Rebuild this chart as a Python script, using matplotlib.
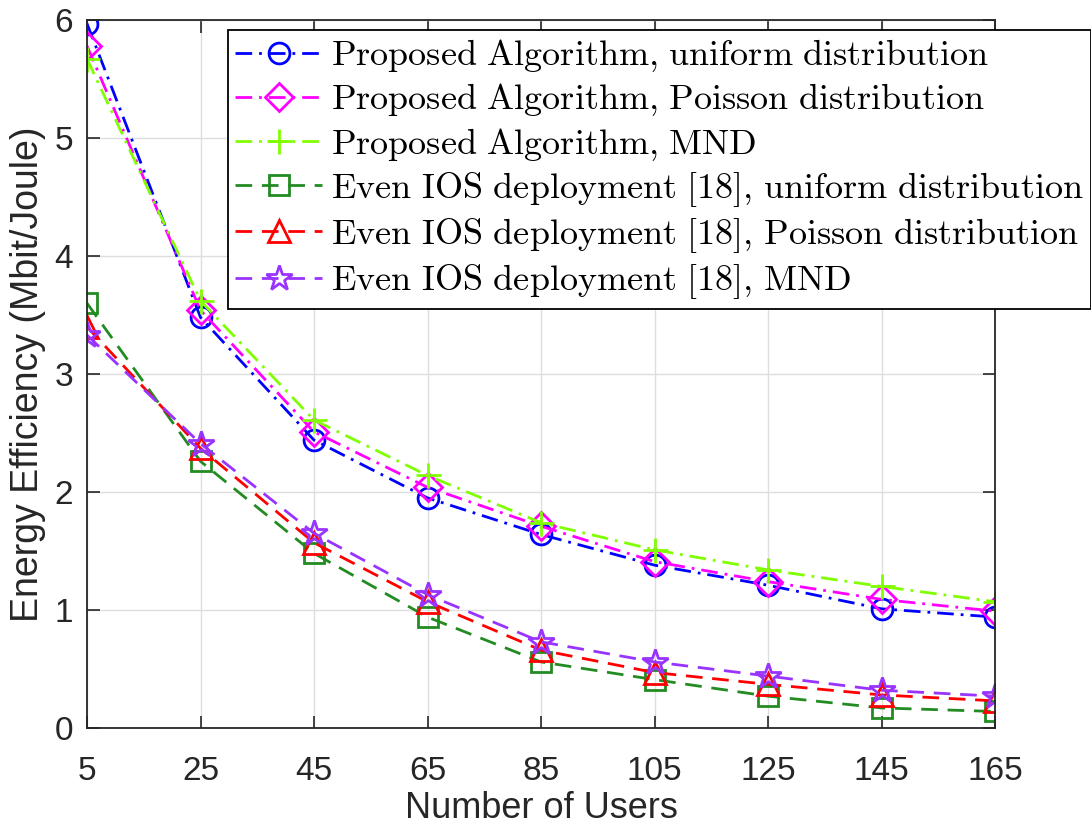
import matplotlib
matplotlib.use("Agg")
import matplotlib.pyplot as plt
import numpy as np

# Number of users on the x-axis
users = [5, 25, 45, 65, 85, 105, 125, 145, 165]

# Energy efficiency (Mbit/Joule) for each scheme
prop_uniform = [5.97, 3.48, 2.44, 1.95, 1.64, 1.38, 1.21, 1.01, 0.94]
prop_poisson = [5.78, 3.54, 2.51, 2.04, 1.71, 1.41, 1.24, 1.09, 0.99]
prop_mnd = [5.67, 3.62, 2.61, 2.14, 1.74, 1.51, 1.34, 1.20, 1.07]
even_uniform = [3.60, 2.26, 1.48, 0.94, 0.56, 0.41, 0.27, 0.17, 0.14]
even_poisson = [3.40, 2.37, 1.57, 1.07, 0.66, 0.47, 0.37, 0.28, 0.23]
even_mnd = [3.33, 2.41, 1.65, 1.13, 0.73, 0.56, 0.44, 0.32, 0.27]

labels = [
    r"$\mathrm{Proposed\ Algorithm{,}\ uniform\ distribution}$",
    r"$\mathrm{Proposed\ Algorithm{,}\ Poisson\ distribution}$",
    r"$\mathrm{Proposed\ Algorithm{,}\ MND}$",
    r"$\mathrm{Even\ IOS\ deployment\ [18]{,}\ uniform\ distribution}$",
    r"$\mathrm{Even\ IOS\ deployment\ [18]{,}\ Poisson\ distribution}$",
    r"$\mathrm{Even\ IOS\ deployment\ [18]{,}\ MND}$",
]

plt.rcParams["mathtext.fontset"] = "cm"
plt.rcParams["font.family"] = ["Liberation Sans", "DejaVu Sans"]

fig = plt.figure(figsize=(10.91, 8.26), dpi=100)
ax = fig.add_axes([87 / 1091, 1 - 728 / 826, 908 / 1091, 708 / 826])

dash = (6, 3.5)
dashdot = (6, 2.5, 1, 2.5)
styles = [
    (prop_uniform, "#0000ff", dashdot, "o", 15),
    (prop_poisson, "#ff00ff", dashdot, "D", 14),
    (prop_mnd, "#80ff00", dashdot, "+", 18),
    (even_uniform, "#228b22", dash, "s", 14),
    (even_poisson, "#ff0000", dash, "^", 16),
    (even_mnd, "#9933ff", dash, "*", 19),
]

for (vals, color, dashes, mk, ms), lab in zip(styles, labels):
    ax.plot(users, vals, color=color, linestyle="--", dashes=dashes, linewidth=2,
            marker=mk, markersize=ms, markerfacecolor="none",
            markeredgecolor=color, markeredgewidth=2, label=lab)

ax.set_xlim(5, 165)
ax.set_ylim(0, 6)
ax.set_xticks(users)
ax.set_yticks(np.arange(0, 7, 1))
ax.tick_params(direction="in", length=9, width=1.2, labelsize=24,
               top=True, right=True, colors="#262626")
ax.tick_params(axis="x", pad=20)
ax.tick_params(axis="y", pad=10)
ax.grid(True, color="#dedede", linewidth=1)
ax.set_axisbelow(True)
for sp in ax.spines.values():
    sp.set_color("#262626")
    sp.set_linewidth(1.3)

ax.set_xlabel("Number of Users", fontsize=26, color="#262626", labelpad=3)
ax.set_ylabel("Energy Efficiency (Mbit/Joule)", fontsize=27, color="#262626", labelpad=6)

leg = ax.legend(loc="upper left", bbox_to_anchor=(228 / 1091, 1 - 30 / 826),
                bbox_transform=fig.transFigure, fontsize=26, fancybox=False,
                framealpha=1, edgecolor="black", handlelength=2.4,
                handletextpad=0.25, borderpad=0.2, labelspacing=0.2,
                borderaxespad=0)
leg.get_frame().set_linewidth(1.3)

fig.savefig("out.png", dpi=100)
